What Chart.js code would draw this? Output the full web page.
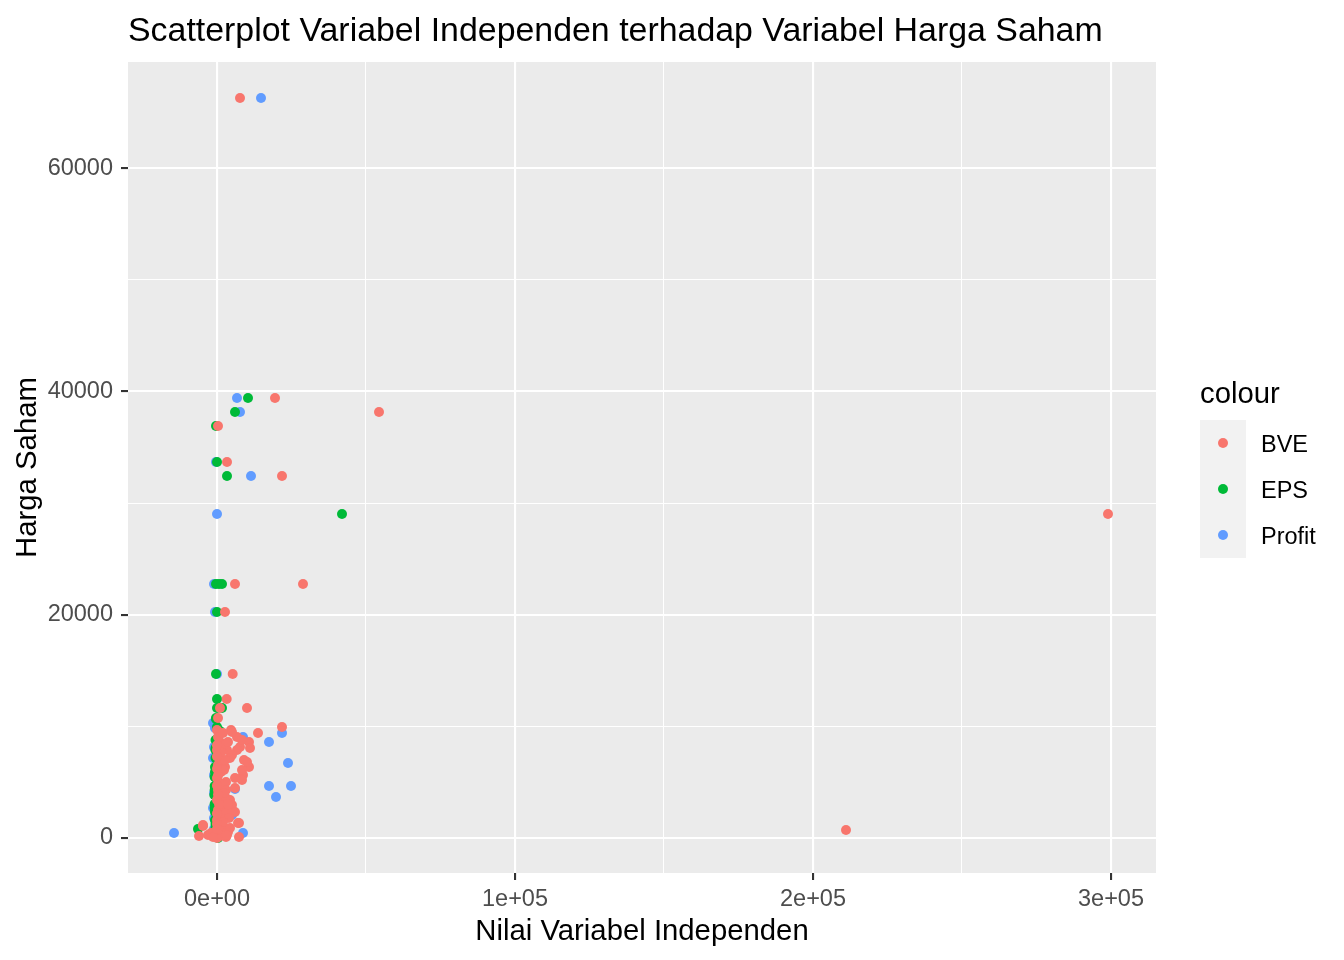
<!DOCTYPE html>
<html>
<head>
<meta charset="utf-8">
<script src="https://cdn.jsdelivr.net/npm/chart.js@4.4.1/dist/chart.umd.min.js"></script>
<style>
  html, body { margin: 0; padding: 0; background: #FFFFFF; }
  #wrap { position: relative; width: 1344px; height: 960px; overflow: hidden; font-family: "Liberation Sans", Arial, sans-serif; }
  #c { position: absolute; left: 0; top: 0; }
  .txt { position: absolute; line-height: 1; white-space: nowrap; }
  #title { left: 128px; top: 13px; font-size: 33.9px; color: #000; }
  #legTitle { left: 1200px; top: 378px; font-size: 29.3px; color: #000; }
  #keys { position: absolute; left: 1200px; top: 420px; width: 46px; height: 138px; background: #F2F2F2; }
  .dot { position: absolute; width: 10px; height: 10px; border-radius: 50%; left: 18px; }
  .lab { left: 1261px; font-size: 23.5px; color: #000; }
</style>
</head>
<body>
<div id="wrap">
  <canvas id="c" width="1344" height="960"></canvas>
  <div id="title" class="txt">Scatterplot Variabel Independen terhadap Variabel Harga Saham</div>
  <div id="legTitle" class="txt">colour</div>
  <div id="keys"></div>
</div>
<script>
// ---- data ----
const seriesNames = ['BVE', 'EPS', 'Profit'];
const seriesColors = ['#F8766D', '#00BA38', '#619CFF'];

const bveX = [7720, 298990, 211070, 54360, 19460, 340, 3360, 21810, 6040, 28860, 2680, 5260, 3250, 1010, 10070, 340, 21810, 4700, 13760, 10740, 6710, 7720, 6710, 5030, 3360, 9060, 10740, 8720, 8390, 6040, 4360, 5030, 7380, 7380, -4700, -6040, 0, 5030, 8390, 1010, 2010, 11070, 1010, 4360, 10070, 2680, 8390, 6040, 5030, 6040, 7050, -3020, -4700,
  0, 1010, 2680, 340, 1680, 3690, 0, 1340, 2680, 340, 1680, 3360, 0, 1340, 3020, 340, 1680, 3020, 0, 1340, 2350, 340, 1680, 0, 2350, 340, 3020, 3690, 4020, 4360, -2010, -1340, 3020, 2010, 0, 670, 2350, 670, 2680, 1340, 3690, 2010, 3360,
  0, 0, 0, 0, 0, 0, 340, 340];
const bveY = [66280, 29020, 720, 38160, 39410, 36900, 33680, 32420, 22750, 22750, 20240, 14690, 12450, 11640, 11640, 10750, 9940, 9670, 9400, 8600, 9050, 8150, 7880, 7430, 7880, 6990, 6360, 5640, 5200, 4480, 3400, 2510, 1340, 90, 1160, 180, 9670, 9490, 8780, 8600, 7880, 8060, 6990, 7170, 6810, 6360, 6090, 5370, 2960, 2330, 1340, 270, 1070,
  0, 180, 360, 720, 1070, 540, 1610, 1790, 2060, 2510, 2870, 2330, 3400, 3760, 3580, 4300, 4750, 5020, 5370, 5910, 6090, 6540, 6990, 7880, 8330, 9050, 4300, 3000, 1790, 900, 450, 90, 90, 1430, 1250, 3050, 4030, 4930, 6990, 7700, 8600, 9400, 270,
  800, 2200, 4700, 6200, 7300, 8300, 3900, 5600];

const epsX = [10400, 6040, -340, 0, 3360, 41950, -340, 670, 1680, 0, -340, 0, 1680, -340, 0, 1010, -500, -500, -500, -670, -800, -800, -900, -800, -670, -670, -500, -6380, -500, 340, 0, -340, -500, -670, -800, -800, -500, 0];
const epsY = [39410, 38160, 36900, 33680, 32420, 29020, 22750, 22750, 22750, 20240, 14690, 12450, 11640, 10750, 9940, 9580, 8780, 8060, 7170, 6360, 5460, 4660, 3850, 3050, 2330, 1610, 900, 810, 180, 0, 11640, 10660, 7880, 5910, 4300, 2690, 1250, 450];

const profitX = [14770, 6710, 7720, 0, -1010, -670, 0, 11410, 21810, 8720, 17450, 23830, 17450, 24830, 19800, -14430, 8720, 6040, -670, -1010, -1340, -1010, -1010, -1340, -1010, -1010, -340, -340, -1340, 5030];
const profitY = [66280, 39410, 38160, 29020, 22750, 20240, 14690, 32420, 9400, 9050, 8600, 6720, 4660, 4660, 3670, 450, 450, 4390, 9850, 8150, 7170, 5640, 4030, 2690, 1790, 810, 90, 33680, 10300, 2060];

const xMin = -29866, xMax = 315100;
const yMin = -3135, yMax = 69500;
const xTickValues = [0, 50000, 100000, 150000, 200000, 250000, 300000];
const xMajor = [0, 100000, 200000, 300000];
const xTickLabels = ['0e+00', '1e+05', '2e+05', '3e+05'];
const yTickValues = [0, 10000, 20000, 30000, 40000, 50000, 60000];
const yMajor = [0, 20000, 40000, 60000];
const yTickLabels = ['0', '20000', '40000', '60000'];

const xTitle = 'Nilai Variabel Independen';
const yTitle = 'Harga Saham';

// ---- build ----
function pts(xs, ys) { return xs.map((x, i) => ({ x: x, y: ys[i] })); }
const allX = [bveX, epsX, profitX];
const allY = [bveY, epsY, profitY];

const datasets = seriesNames.map((n, i) => ({
  label: n,
  data: pts(allX[i], allY[i]),
  backgroundColor: seriesColors[i],
  borderWidth: 0,
  pointRadius: 5,
  pointHoverRadius: 5,
  pointBorderWidth: 0
}));

// legend keys (HTML)
const keys = document.getElementById('keys');
const wrap = document.getElementById('wrap');
seriesNames.forEach((n, i) => {
  const d = document.createElement('div');
  d.className = 'dot';
  d.style.background = seriesColors[i];
  d.style.top = (18 + i * 46) + 'px';
  keys.appendChild(d);
  const l = document.createElement('div');
  l.className = 'txt lab';
  l.style.top = (433 + i * 46) + 'px';
  l.textContent = n;
  wrap.appendChild(l);
});

const panelBg = {
  id: 'panelBg',
  beforeDraw(chart) {
    const a = chart.chartArea, c = chart.ctx;
    c.save();
    c.fillStyle = '#EBEBEB';
    c.fillRect(a.left, a.top, a.right - a.left, a.bottom - a.top);
    c.restore();
  }
};

const fontFam = '"Liberation Sans", Arial, sans-serif';

new Chart(document.getElementById('c'), {
  type: 'scatter',
  data: { datasets: datasets },
  options: {
    responsive: false,
    animation: false,
    devicePixelRatio: 1,
    events: [],
    layout: { padding: { top: 62, right: 188, bottom: 0, left: 0 } },
    plugins: { legend: { display: false }, tooltip: { enabled: false }, title: { display: false } },
    scales: {
      x: {
        type: 'linear', min: xMin, max: xMax,
        afterBuildTicks: s => { s.ticks = xTickValues.map(v => ({ value: v })); },
        afterFit: s => { s.height = 87; },
        border: { display: false },
        grid: {
          color: '#FFFFFF',
          lineWidth: c => (xMajor.includes(c.tick.value) ? 2.1 : 1.05),
          drawTicks: true, tickLength: 7, tickWidth: 2.1,
          tickColor: c => (xMajor.includes(c.tick.value) ? '#333333' : 'rgba(0,0,0,0)')
        },
        ticks: {
          autoSkip: false, maxRotation: 0, minRotation: 0, padding: 5,
          color: '#4D4D4D', font: { family: fontFam, size: 23.5 },
          callback: v => { const k = xMajor.indexOf(v); return k >= 0 ? xTickLabels[k] : ''; }
        },
        title: { display: true, text: xTitle, color: '#000000', font: { family: fontFam, size: 29.3 }, padding: { top: 0, bottom: 11 } }
      },
      y: {
        type: 'linear', min: yMin, max: yMax,
        afterBuildTicks: s => { s.ticks = yTickValues.map(v => ({ value: v })); },
        afterFit: s => { s.width = 128; },
        border: { display: false },
        grid: {
          color: '#FFFFFF',
          lineWidth: c => (yMajor.includes(c.tick.value) ? 2.1 : 1.05),
          drawTicks: true, tickLength: 7, tickWidth: 2.1,
          tickColor: c => (yMajor.includes(c.tick.value) ? '#333333' : 'rgba(0,0,0,0)')
        },
        ticks: {
          autoSkip: false, padding: 8,
          color: '#4D4D4D', font: { family: fontFam, size: 23.5 },
          callback: v => { const k = yMajor.indexOf(v); return k >= 0 ? yTickLabels[k] : ''; }
        },
        title: { display: true, text: yTitle, color: '#000000', font: { family: fontFam, size: 29.3 }, padding: { top: 10, bottom: 0 } }
      }
    }
  },
  plugins: [panelBg]
});
</script>
</body>
</html>
